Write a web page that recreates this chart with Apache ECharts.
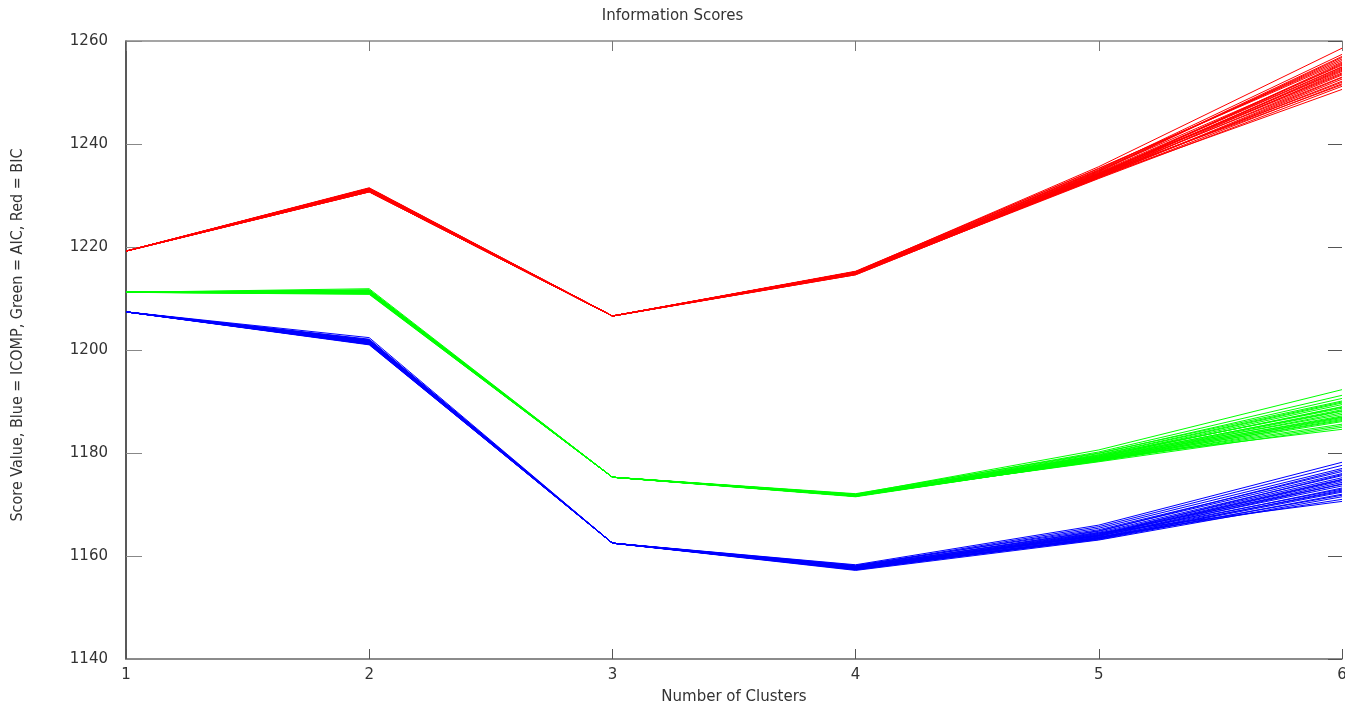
<!DOCTYPE html>
<html>
<head>
<meta charset="utf-8">
<title>Information Scores</title>
<script src="https://cdn.jsdelivr.net/npm/echarts@6/dist/echarts.min.js"></script>
<style>
  html, body { margin: 0; padding: 0; background: #fff; overflow: hidden; }
  #chart { width: 1345px; height: 707px; }
</style>
</head>
<body>
<div id="chart"></div>
<script>
// Number of clusters on the x axis
const clusters = [1, 2, 3, 4, 5, 6];
const yTicks = [1140, 1160, 1180, 1200, 1220, 1240, 1260];

// BIC score per repeated run (one row per run, one value per cluster count)
const bicRuns = [
  [1219.2, 1231.5, 1206.6, 1215.2, 1235.6, 1258.6],
  [1219.2, 1231.3, 1206.6, 1215.0, 1235.0, 1257.4],
  [1219.2, 1231.0, 1206.6, 1214.8, 1234.6, 1256.8],
  [1219.2, 1231.4, 1206.6, 1215.3, 1235.2, 1256.2],
  [1219.2, 1230.8, 1206.6, 1214.7, 1234.0, 1255.7],
  [1219.2, 1231.2, 1206.6, 1215.1, 1234.8, 1255.3],
  [1219.2, 1230.9, 1206.6, 1214.9, 1234.3, 1254.9],
  [1219.2, 1231.1, 1206.6, 1215.2, 1233.9, 1254.5],
  [1219.2, 1230.7, 1206.6, 1214.6, 1233.6, 1254.1],
  [1219.2, 1231.3, 1206.6, 1215.0, 1234.4, 1253.8],
  [1219.2, 1231.0, 1206.6, 1214.8, 1233.8, 1253.4],
  [1219.2, 1230.8, 1206.6, 1215.1, 1234.1, 1253.0],
  [1219.2, 1231.2, 1206.6, 1214.9, 1233.5, 1252.6],
  [1219.2, 1230.9, 1206.6, 1214.7, 1233.7, 1252.2],
  [1219.2, 1231.4, 1206.6, 1215.0, 1233.4, 1251.7],
  [1219.2, 1230.7, 1206.6, 1214.8, 1233.3, 1251.2],
  [1219.2, 1231.0, 1206.6, 1214.6, 1233.6, 1250.6],
  [1219.2, 1231.1, 1206.6, 1215.2, 1234.9, 1256.5],
  [1219.2, 1230.9, 1206.6, 1214.9, 1234.5, 1255.0],
  [1219.2, 1231.2, 1206.6, 1215.0, 1234.2, 1254.3],
  [1219.2, 1231.1, 1206.6, 1215.1, 1234.7, 1257.0],
  [1219.2, 1230.8, 1206.6, 1214.8, 1234.0, 1255.5],
  [1219.2, 1231.3, 1206.6, 1215.0, 1233.8, 1254.7],
  [1219.2, 1231.0, 1206.6, 1214.9, 1234.3, 1253.6],
  [1219.2, 1230.9, 1206.6, 1215.1, 1233.5, 1252.9],
  [1219.2, 1231.2, 1206.6, 1214.7, 1233.9, 1252.0],
  [1219.2, 1231.4, 1206.6, 1215.2, 1235.3, 1255.9],
  [1219.2, 1230.7, 1206.6, 1214.8, 1234.1, 1251.5]
];

// AIC score per repeated run
const aicRuns = [
  [1211.2, 1211.9, 1175.3, 1172.0, 1180.6, 1192.3],
  [1211.2, 1211.6, 1175.3, 1171.9, 1180.2, 1191.2],
  [1211.2, 1211.4, 1175.3, 1171.8, 1179.9, 1190.6],
  [1211.2, 1211.7, 1175.3, 1172.1, 1180.0, 1190.1],
  [1211.2, 1211.2, 1175.3, 1171.7, 1179.6, 1189.7],
  [1211.2, 1211.5, 1175.3, 1171.9, 1179.4, 1189.4],
  [1211.2, 1211.0, 1175.3, 1171.6, 1179.2, 1189.0],
  [1211.2, 1211.3, 1175.3, 1171.8, 1179.5, 1188.7],
  [1211.2, 1211.1, 1175.3, 1171.7, 1179.0, 1188.4],
  [1211.2, 1211.6, 1175.3, 1172.0, 1178.9, 1188.1],
  [1211.2, 1210.9, 1175.3, 1171.6, 1178.7, 1187.8],
  [1211.2, 1211.4, 1175.3, 1171.8, 1179.1, 1187.5],
  [1211.2, 1211.2, 1175.3, 1171.9, 1178.8, 1187.2],
  [1211.2, 1211.0, 1175.3, 1171.5, 1178.6, 1186.9],
  [1211.2, 1211.5, 1175.3, 1171.7, 1178.5, 1186.5],
  [1211.2, 1211.3, 1175.3, 1171.8, 1178.4, 1186.1],
  [1211.2, 1210.8, 1175.3, 1171.6, 1178.6, 1185.6],
  [1211.2, 1211.1, 1175.3, 1171.9, 1178.3, 1185.0],
  [1211.2, 1211.4, 1175.3, 1171.7, 1178.9, 1184.6],
  [1211.2, 1211.2, 1175.3, 1171.8, 1179.3, 1188.9],
  [1211.2, 1211.3, 1175.3, 1171.7, 1179.0, 1187.0],
  [1211.2, 1211.0, 1175.3, 1171.8, 1178.7, 1186.3],
  [1211.2, 1211.5, 1175.3, 1171.9, 1179.2, 1188.2],
  [1211.2, 1211.1, 1175.3, 1171.6, 1178.5, 1185.3],
  [1211.2, 1211.4, 1175.3, 1171.8, 1179.7, 1189.9],
  [1211.2, 1211.2, 1175.3, 1171.7, 1178.8, 1186.7]
];

// ICOMP score per repeated run
const icompRuns = [
  [1207.4, 1202.4, 1162.5, 1158.3, 1166.0, 1178.2],
  [1207.4, 1202.1, 1162.5, 1158.1, 1165.7, 1177.6],
  [1207.4, 1201.8, 1162.5, 1158.0, 1165.4, 1177.0],
  [1207.4, 1202.0, 1162.5, 1158.2, 1165.1, 1176.4],
  [1207.4, 1201.6, 1162.5, 1157.9, 1164.9, 1176.0],
  [1207.4, 1201.9, 1162.5, 1158.0, 1164.6, 1175.6],
  [1207.4, 1201.5, 1162.5, 1157.8, 1164.4, 1175.2],
  [1207.4, 1201.7, 1162.5, 1157.7, 1164.2, 1174.9],
  [1207.4, 1201.4, 1162.5, 1157.6, 1164.0, 1174.6],
  [1207.4, 1201.8, 1162.5, 1157.9, 1163.8, 1174.3],
  [1207.4, 1201.3, 1162.5, 1157.5, 1163.6, 1174.0],
  [1207.4, 1201.6, 1162.5, 1157.7, 1163.9, 1173.6],
  [1207.4, 1201.2, 1162.5, 1157.4, 1163.5, 1173.2],
  [1207.4, 1201.5, 1162.5, 1157.6, 1163.3, 1172.8],
  [1207.4, 1201.1, 1162.5, 1157.3, 1163.4, 1172.4],
  [1207.4, 1201.4, 1162.5, 1157.5, 1163.2, 1172.0],
  [1207.4, 1201.0, 1162.5, 1157.2, 1163.1, 1171.5],
  [1207.4, 1201.3, 1162.5, 1157.4, 1163.7, 1171.0],
  [1207.4, 1201.7, 1162.5, 1157.8, 1164.5, 1170.6],
  [1207.4, 1201.2, 1162.5, 1157.6, 1164.1, 1175.8],
  [1207.4, 1201.5, 1162.5, 1157.7, 1164.3, 1173.9],
  [1207.4, 1201.3, 1162.5, 1157.5, 1163.6, 1172.6],
  [1207.4, 1201.8, 1162.5, 1157.9, 1164.8, 1176.7],
  [1207.4, 1201.1, 1162.5, 1157.4, 1163.4, 1171.8],
  [1207.4, 1201.6, 1162.5, 1157.8, 1164.0, 1174.8],
  [1207.4, 1201.4, 1162.5, 1157.6, 1163.9, 1173.0]
];

const FONT = 'DejaVu Sans';
const NARROW = "'DejaVu Sans Condensed', 'Liberation Sans Narrow', 'Liberation Sans', sans-serif";

function runSeries(runs, color, label) {
  return runs.map((row) => ({
    name: label,
    type: 'line',
    xAxisIndex: 0,
    yAxisIndex: 0,
    data: row.map((v, k) => [clusters[k], v]),
    symbol: 'none',
    silent: true,
    lineStyle: { color: color, width: 1 },
    z: 2
  }));
}

const chart = echarts.init(document.getElementById('chart'), null, { renderer: 'canvas', width: 1345, height: 707 });

chart.setOption({
  animation: false,
  backgroundColor: '#ffffff',
  title: {
    text: 'Information Scores',
    left: 'center',
    top: 4,
    textStyle: { fontFamily: FONT, fontSize: 15, fontWeight: 'normal', color: '#333' }
  },
  grid: {
    left: 126, right: 3, top: 41, bottom: 48,
    containLabel: false,
    outerBoundsMode: 'none'
  },
  xAxis: [
    {
      type: 'value',
      min: clusters[0],
      max: clusters[clusters.length - 1],
      interval: 1,
      position: 'bottom',
      name: 'Number of Clusters',
      nameLocation: 'middle',
      nameGap: 31,
      nameTextStyle: { fontFamily: FONT, fontSize: 15, color: '#333' },
      axisLine: { show: true, lineStyle: { color: '#666', width: 1.5 } },
      axisTick: { show: true, inside: true, length: 10, lineStyle: { color: '#555' } },
      axisLabel: { margin: 9, fontFamily: FONT, fontSize: 15, color: '#333' },
      splitLine: { show: false }
    },
    {
      type: 'value',
      min: clusters[0],
      max: clusters[clusters.length - 1],
      interval: 1,
      position: 'top',
      axisLine: { show: true, lineStyle: { color: '#888', width: 1.5 } },
      axisTick: { show: true, inside: true, length: 10, lineStyle: { color: '#777' } },
      axisLabel: { show: false },
      splitLine: { show: false }
    }
  ],
  yAxis: [
    {
      type: 'value',
      min: yTicks[0],
      max: yTicks[yTicks.length - 1],
      interval: 20,
      position: 'left',
      name: 'Score Value, Blue = ICOMP, Green = AIC, Red = BIC',
      nameLocation: 'middle',
      nameGap: 100,
      nameTextStyle: { fontFamily: NARROW, fontSize: 16, color: '#333', padding: [0, 0, 0, 30] },
      axisLine: { show: true, lineStyle: { color: '#222', width: 1.5 } },
      axisTick: { show: true, inside: true, length: 16, lineStyle: { color: '#888' } },
      axisLabel: {
        margin: 18, fontFamily: FONT, fontSize: 15, color: '#333',
        formatter: (v) => String(v)
      },
      splitLine: { show: false }
    },
    {
      type: 'value',
      min: yTicks[0],
      max: yTicks[yTicks.length - 1],
      interval: 20,
      position: 'right',
      axisLine: { show: false },
      axisTick: { show: true, inside: true, length: 14, lineStyle: { color: '#555' } },
      axisLabel: { show: false },
      splitLine: { show: false }
    }
  ],
  series: [
    ...runSeries(bicRuns, '#ff0000', 'BIC'),
    ...runSeries(aicRuns, '#00ff00', 'AIC'),
    ...runSeries(icompRuns, '#0000ff', 'ICOMP')
  ]
});
</script>
</body>
</html>
